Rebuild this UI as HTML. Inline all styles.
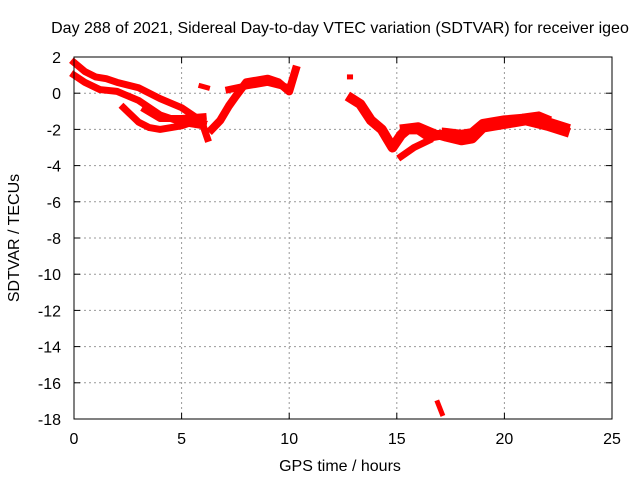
<!DOCTYPE html>
<html><head><meta charset="utf-8"><style>
body{margin:0;background:#fff}
text{font-family:"Liberation Sans",sans-serif;font-size:16px;fill:#000}
</style></head><body>
<svg id="chart" width="640" height="480" xmlns="http://www.w3.org/2000/svg">
<rect width="640" height="480" fill="#fff"/>
<g id="grid"></g><g id="data"></g><g id="axes"></g>
<text x="340" y="33" text-anchor="middle">Day 288 of 2021, Sidereal Day-to-day VTEC variation (SDTVAR) for receiver igeo</text>
<text x="340" y="471" text-anchor="middle">GPS time / hours</text>
<text transform="translate(19,238) rotate(-90)" text-anchor="middle">SDTVAR / TECUs</text>
</svg>
<script>
const xTicks=[0,5,10,15,20,25];
const yTicks=[2,0,-2,-4,-6,-8,-10,-12,-14,-16,-18];
const trackA=[[0,1.7],[0.5,1.2],[1,0.9],[1.5,0.8],[2,0.6],[3,0.3],[4,-0.3],[5,-0.8],[6,-1.6]];
const trackB=[[0,1.0],[0.5,0.6],[1.2,0.2],[2,0.1],[3,-0.4],[4,-1.2],[5,-1.6],[6,-1.8]];
const trackC=[[2.3,-0.8],[3,-1.6],[3.5,-1.9],[4,-2.0],[5,-1.8],[5.5,-1.6],[6,-1.8],[6.2,-2.5]];
const trackD=[[3.3,-0.9],[4,-1.4],[5,-1.4],[6,-1.3]];
const trackE=[[6.4,-2.0],[6.8,-1.5],[7.2,-0.7],[7.5,-0.2],[8,0.6],[9,0.8],[9.5,0.6],[10,0.1],[10.3,1.3]];
const trackF=[[7.2,0.2],[8,0.4],[9,0.6],[10,0.3]];
const trackG=[[5.9,0.4],[6.2,0.3]];
const trackH=[[12.8,0.9],[12.85,0.9]];
const trackI=[[12.9,-0.3],[13.3,-0.6],[13.8,-1.5],[14.3,-2.0],[14.8,-3.0],[15.2,-2.3],[15.5,-2.0],[16,-2.0],[16.5,-2.4],[17,-2.3],[17.3,-2.4],[18,-2.6],[18.5,-2.5],[19,-1.9],[20,-1.7],[21,-1.5],[22,-1.8],[22.8,-2.1]];
const trackJ=[[15.2,-3.5],[15.8,-3.0],[16.5,-2.6]];
const trackK=[[21,-1.3],[21.6,-1.2],[22,-1.4]];
const trackL=[[16.9,-17.1],[17.1,-17.7]];
const trackM=[[17.3,-2.2],[18,-2.3],[18.5,-2.2],[19,-1.7],[20,-1.5],[21,-1.4],[22,-1.6],[22.8,-1.9]];
const trackN=[[15.3,-1.9],[16,-1.8],[16.8,-2.2]];
const tracks=[[trackA,7],[trackB,7],[trackC,7],[trackD,7],[trackE,8],[trackF,7],[trackG,5],[trackH,5],[trackI,10],[trackJ,7],[trackK,7],[trackL,5],[trackM,10],[trackN,7]];
const L=74,R=612,T=57,B=419;
const sx=h=>L+(h-0)/25*(R-L);
const sy=v=>B-(v+18)/20*(B-T);
const NS="http://www.w3.org/2000/svg";
function mk(tag,attrs,parent){const e=document.createElementNS(NS,tag);for(const k in attrs)e.setAttribute(k,attrs[k]);parent.appendChild(e);return e;}
const grid=document.getElementById('grid'),axes=document.getElementById('axes'),data=document.getElementById('data');
xTicks.forEach(t=>{
  const x=sx(t);
  if(t>0&&t<25){const g=mk('line',{x1:x,x2:x,y1:T,y2:B,stroke:'#999','stroke-dasharray':'2,3'},grid);
  
  }
  mk('line',{x1:x,x2:x,y1:B,y2:B-6,stroke:'#000'},axes);
  mk('line',{x1:x,x2:x,y1:T,y2:T+6,stroke:'#000'},axes);
  const lb=mk('text',{x:x,y:B+25,'text-anchor':'middle'},axes);lb.textContent=t;
  
  
});
yTicks.forEach(t=>{
  const y=sy(t);
  if(t>-18&&t<2){const g=mk('line',{x1:L,x2:R,y1:y,y2:y,stroke:'#999','stroke-dasharray':'2,3'},grid);
  
  }
  mk('line',{x1:L,x2:L+6,y1:y,y2:y,stroke:'#000'},axes);
  mk('line',{x1:R,x2:R-6,y1:y,y2:y,stroke:'#000'},axes);
  const lb=mk('text',{x:L-13,y:y+6,'text-anchor':'end'},axes);lb.textContent=t;
  
  
});
const fr=mk('rect',{x:L,y:T,width:R-L,height:B-T,fill:'none',stroke:'#000'},axes);


tracks.forEach(([pts,w])=>{
  const p=mk('polyline',{points:pts.map(d=>sx(d[0])+','+sy(d[1])).join(' '),fill:'none',stroke:'#f00','stroke-width':w,'stroke-linejoin':'round','stroke-linecap':'square'},data);
  
  
});
</script>
</body></html>
